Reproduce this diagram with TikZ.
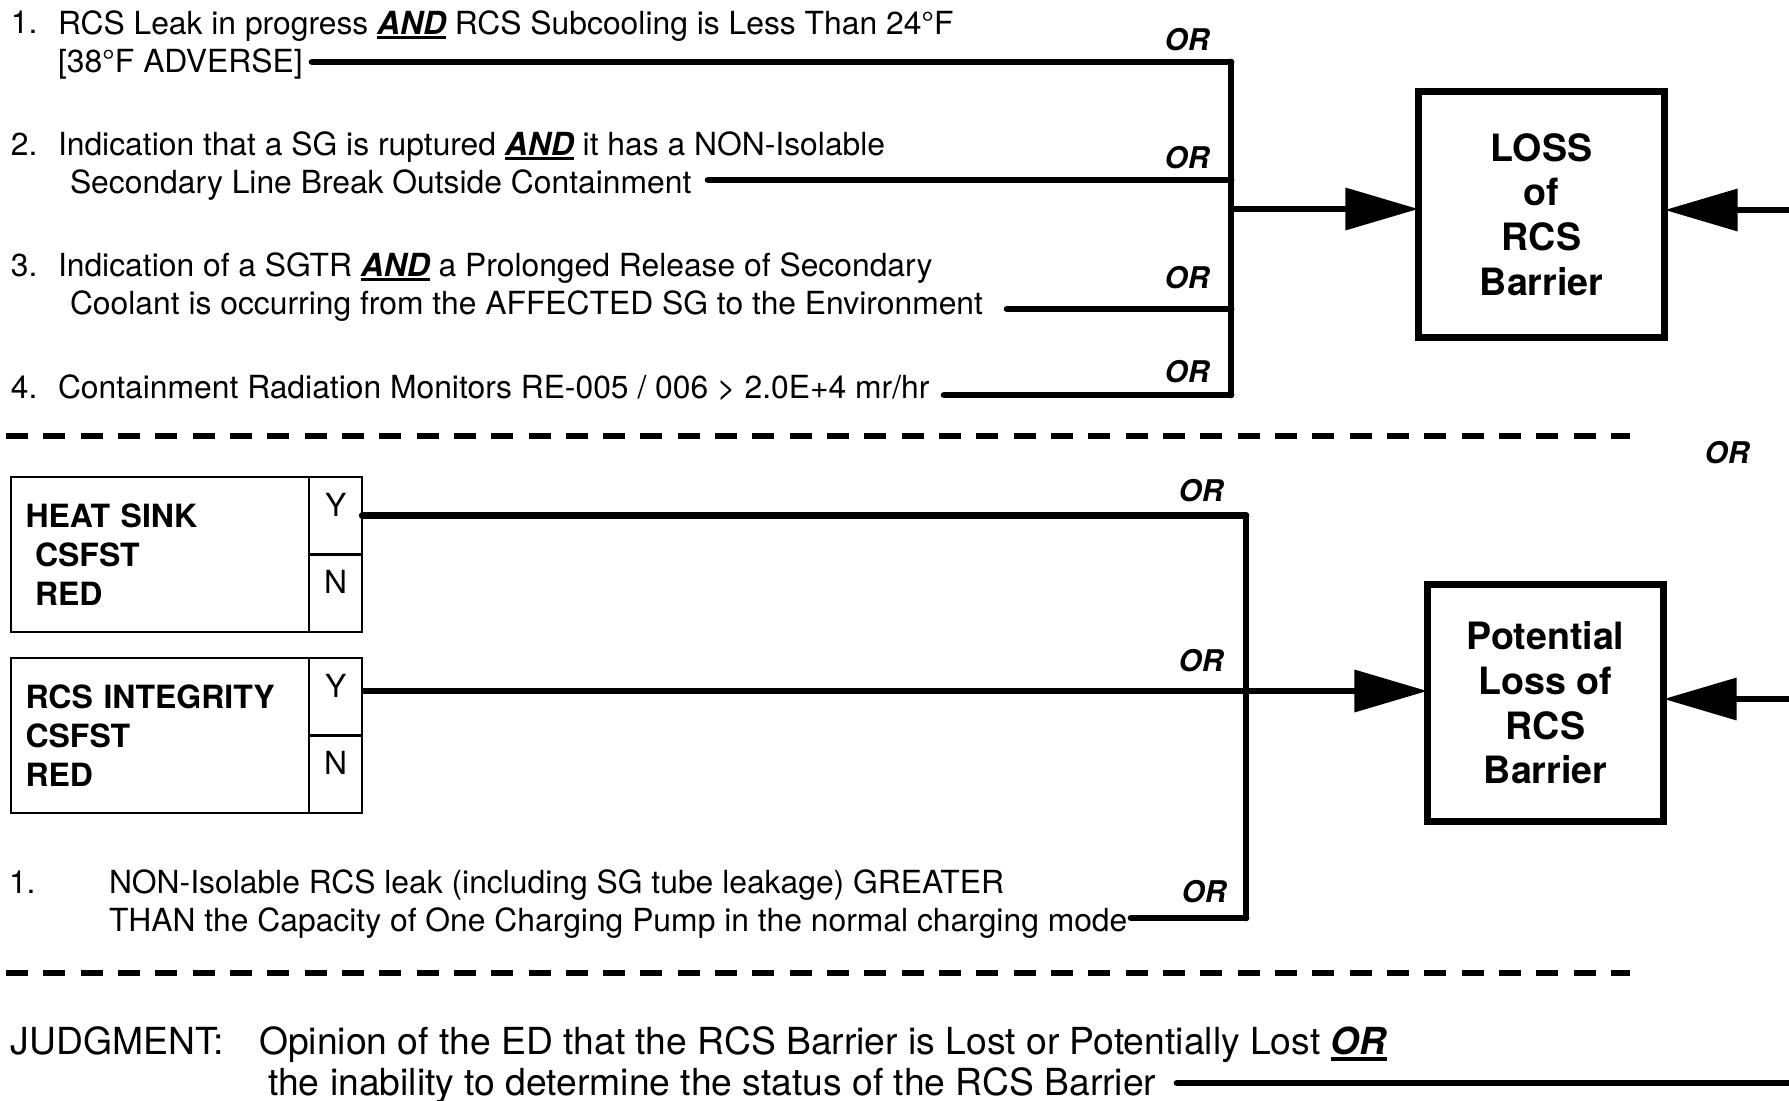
\documentclass[tikz,border=0pt]{standalone}
\usepackage{fontspec}
\setmainfont{TeX Gyre Heros}
\usetikzlibrary{arrows.meta, positioning, calc}

\newcommand{\txtsize}{\fontsize{9.05}{10.8}\selectfont}
\newcommand{\boxsize}{\fontsize{10.7}{12.7}\selectfont}
\newcommand{\csfsize}{\fontsize{9.1}{11}\selectfont}
\newcommand{\orsize}{\fontsize{8.5}{10}\selectfont}
\newcommand{\jdgsize}{\fontsize{10.6}{11.6}\selectfont}
\newcommand{\ulbold}[1]{\sbox0{\bfseries\itshape #1}\rlap{\rule[-0.17em]{\wd0}{0.1em}}\usebox0}

\begin{document}
\begin{tikzpicture}[x=0.01cm, y=-0.01cm,
  every node/.style={inner sep=0pt, outer sep=0pt},
  itemtxt/.style={anchor=base west, align=left, font=\txtsize},
  ortag/.style={font=\orsize\bfseries\itshape},
  barrier/.style={draw, line width=2pt, align=center, font=\boxsize\bfseries},
  csfbox/.style={draw, line width=0.7pt, anchor=north west, minimum width=2.98cm,
                 minimum height=1.55cm, text width=2.69cm, align=left,
                 inner xsep=0.145cm, font=\csfsize\bfseries},
  yncell/.style={draw, line width=0.7pt, anchor=north west, minimum width=0.53cm,
                 minimum height=0.775cm, text depth=0.22cm, font=\txtsize},
  wire/.style={line width=1.9pt, line cap=round},
  arr/.style={line width=1.9pt, -{Triangle[length=0.73cm, width=0.41cm]}},
  sepline/.style={line width=1.8pt, dash pattern=on 0.22cm off 0.153cm}
]
\useasboundingbox (0,0) rectangle (1789,1100);

% loss of the barrier
\node[itemtxt] (n1) at (11,34)  {1.};
\node[itemtxt] (i1) at (58,72)  {RCS Leak in progress \ulbold{AND} RCS Subcooling is Less Than 24°F\\{[}38°F ADVERSE{]}};
\node[itemtxt] (n2) at (11,155) {2.};
\node[itemtxt] (i2) at (58,193) {Indication that a SG is ruptured \ulbold{AND} it has a NON-Isolable\\\hspace*{0.12cm}Secondary Line Break Outside Containment};
\node[itemtxt] (n3) at (11,276) {3.};
\node[itemtxt] (i3) at (58,314) {Indication of a SGTR \ulbold{AND} a Prolonged Release of Secondary\\\hspace*{0.12cm}Coolant is occurring from the AFFECTED SG to the Environment};
\node[itemtxt] (n4) at (11,398) {4.};
\node[itemtxt] (i4) at (58,398) {Containment Radiation Monitors RE-005 / 006 > 2.0E+4 mr/hr};

\node[barrier, minimum width=2.46cm, minimum height=2.46cm] (loss) at (1541.5,214.5) {LOSS\\of\\RCS\\Barrier};

\coordinate (s1) at (312,62);
\coordinate (s2) at (708,180);
\coordinate (s3) at (1007,309);
\coordinate (s4) at (944,395);
\coordinate (b1) at (1231,62);
\coordinate (b2) at (1231,180);
\coordinate (b3) at (1231,309);
\coordinate (b4) at (1231,395);
\coordinate (bo) at (1231,209);
\coordinate (lin) at (1789,210);

\draw[wire] (s1) -- (b1);
\draw[wire] (s2) -- (b2);
\draw[wire] (s3) -- (b3);
\draw[wire] (s4) -- (b4);
\draw[wire] (b1) -- (b4);
\draw[arr] (bo) -- (bo -| loss.west);
\draw[arr] (lin) -- (lin -| loss.east);

\node[ortag] (or1) at (1187,40)  {OR};
\node[ortag] (or2) at (1187,158) {OR};
\node[ortag] (or3) at (1187,278) {OR};
\node[ortag] (or4) at (1187,372) {OR};

\draw[sepline] (6,436) -- (1630,436);
\node[ortag] (ormid) at (1727,453) {OR};

% potential loss
\node[csfbox] (hs) at (11,477) {HEAT SINK\\\hspace*{0.095cm}CSFST\\\hspace*{0.095cm}RED};
\node[yncell] (hsy) at (hs.north east) {Y};
\node[yncell] (hsn) at (hsy.south west) {N};
\node[csfbox] (ri) at (11,658) {RCS INTEGRITY\\CSFST\\RED};
\node[yncell] (riy) at (ri.north east) {Y};
\node[yncell] (rin) at (riy.south west) {N};

\node[itemtxt] (n5) at (9,893)   {1.};
\node[itemtxt] (i5) at (109,931) {NON-Isolable RCS leak (including SG tube leakage) GREATER\\THAN the Capacity of One Charging Pump in the normal charging mode};

\node[barrier, minimum width=2.36cm, minimum height=2.37cm] (pot) at (1545.5,703) {Potential\\Loss of\\RCS\\Barrier};

\coordinate (p1) at (1246,515.5);
\coordinate (p2) at (1246,691);
\coordinate (p3) at (1246,918);
\coordinate (t3) at (1131,918);
\coordinate (pin) at (1789,699);

\draw[wire] (hsy.east) -- (hsy.east -| p1);
\draw[arr] (riy.east |- p2) -- (p2 -| pot.west);
\draw[wire] (t3) -- (p3);
\draw[wire] (p1) -- (p3);
\draw[arr] (pin) -- (pin -| pot.east);

\node[ortag] (or5) at (1201,491) {OR};
\node[ortag] (or6) at (1201,661) {OR};
\node[ortag] (or7) at (1204,892) {OR};

\draw[sepline] (6,973) -- (1630,973);

% judgment
\node[itemtxt, font=\jdgsize] (jl) at (11,1054)  {JUDGMENT:};
\node[itemtxt, font=\jdgsize] (jt) at (259,1095) {Opinion of the ED that the RCS Barrier is Lost or Potentially Lost \ulbold{OR}\\\hspace*{0.09cm}the inability to determine the status of the RCS Barrier};
\coordinate (j0) at (1177,1083);
\coordinate (j1) at (1789,1083);
\draw[wire] (j0) -- (j1);

\end{tikzpicture}
\end{document}
